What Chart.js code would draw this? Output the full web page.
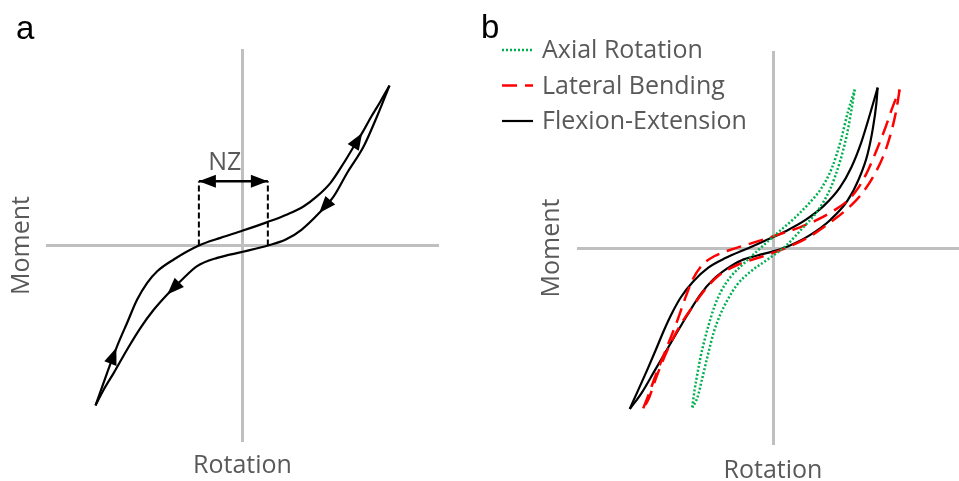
<!DOCTYPE html>
<html>
<head>
<meta charset="utf-8">
<script src="https://cdn.jsdelivr.net/npm/chart.js@4.4.0/dist/chart.umd.min.js"></script>
<style>
  html, body { margin: 0; padding: 0; background: #fff; overflow: hidden; width: 959px; height: 481px; }
  canvas { position: absolute; top: 0; }
  #panelA { left: 0; }
  #panelB { left: 480px; }
</style>
</head>
<body>
<canvas id="panelA" width="480" height="481"></canvas>
<canvas id="panelB" width="490" height="490"></canvas>
<script>
'use strict';

// ── Shared text ──────────────────────────────────────────────
const xTitle = 'Rotation';
const yTitle = 'Moment';
const panelTags = ['a', 'b'];

// ── Panel a: one load-unload loop, [rotation, moment] ───────
const loadingA = [
  [-7.48, -8.14], [-6.89, -6.48], [-6.38, -5.12], [-5.87, -3.93], [-5.36, -2.75],
  [-4.85, -1.9], [-4.34, -1.31], [-3.5, -0.71], [-2.22, 0], [-1.12, 0.39],
  [0.02, 0.76], [1.26, 1.19], [2.27, 1.58], [3.12, 2.0], [3.8, 2.51], [4.48, 3.19],
  [5.16, 4.21], [5.67, 5.05], [6.09, 5.73], [6.55, 6.55], [7.02, 7.33], [7.48, 8.14]
];
const unloadingA = [
  [7.48, 8.14], [6.85, 6.58], [6.17, 5.05], [5.33, 3.7], [4.65, 2.51], [3.9, 1.65],
  [3.0, 0.8], [2.2, 0.3], [1.3, 0], [0.02, -0.32], [-1.29, -0.63], [-2.31, -1.05],
  [-3.07, -1.73], [-3.83, -2.49], [-4.51, -3.26], [-5.19, -4.19], [-5.87, -5.29],
  [-6.55, -6.48], [-7.06, -7.33], [-7.48, -8.14]
];
// arrowheads along the loop: [fromX, fromY, tipX, tipY]
const loopArrows = [
  [-6.7, -5.95, -6.42, -5.2],
  [5.67, 5.05, 6.09, 5.73],
  [4.65, 2.51, 3.9, 1.65],
  [-3.07, -1.73, -3.83, -2.49]
];
// neutral zone
const nzEdges = [-2.22, 1.29];
const nzLevel = 3.27;
const nzText = 'NZ';
const nzTextAt = [-0.9, 3.83];

// ── Panel b: three loading modes ────────────────────────────
const seriesNames = ['Axial Rotation', 'Lateral Bending', 'Flexion-Extension'];
const axialLoad = [
  [-4.12, -8.09], [-4.0, -7.2], [-3.86, -6.4], [-3.7, -5.55], [-3.5, -4.7],
  [-3.28, -3.9], [-3.0, -3.0], [-2.65, -2.2], [-2.15, -1.45], [-1.45, -0.75],
  [-0.66, -0.02], [0.2, 0.74], [1.1, 1.52], [1.85, 2.28], [2.48, 3.05], [3.02, 4.1],
  [3.47, 5.5], [3.82, 6.9], [4.17, 8.04]
];
const axialUnload = [
  [4.17, 8.04], [4.0, 7.0], [3.76, 5.7], [3.42, 4.4], [2.92, 3.0], [2.25, 1.85],
  [1.5, 1.0], [0.7, 0.15], [-0.3, -0.6], [-1.15, -1.2], [-1.82, -1.85], [-2.3, -2.6],
  [-2.7, -3.4], [-3.03, -4.3], [-3.34, -5.5], [-3.63, -6.7], [-3.86, -7.6], [-4.11, -8.09]
];
const lateralLoad = [
  [-6.62, -8.14], [-6.33, -7.4], [-6.0, -6.5], [-5.62, -5.55], [-5.22, -4.55],
  [-4.85, -3.6], [-4.5, -2.6], [-4.1, -1.6], [-3.6, -0.85], [-3.0, -0.42],
  [-2.2, -0.1], [-1.0, 0.27], [0.2, 0.66], [1.37, 1.05], [2.3, 1.45], [3.1, 1.9],
  [3.8, 2.4], [4.35, 3.05], [4.85, 3.95], [5.3, 5.0], [5.75, 6.15], [6.1, 7.15],
  [6.46, 8.04]
];
const lateralUnload = [
  [6.46, 8.04], [6.3, 7.05], [5.98, 5.7], [5.6, 4.6], [5.1, 3.6], [4.45, 2.65],
  [3.75, 1.95], [2.9, 1.28], [1.9, 0.6], [0.85, 0.08], [-0.5, -0.42], [-1.8, -0.85],
  [-2.8, -1.42], [-3.5, -2.15], [-4.15, -3.05], [-4.75, -3.95], [-5.35, -5.1],
  [-5.95, -6.55], [-6.32, -7.6], [-6.61, -8.14]
];
const flexLoad = [
  [-7.31, -8.17], [-6.85, -7.15], [-6.4, -6.15], [-5.95, -5.1], [-5.55, -4.15],
  [-5.15, -3.3], [-4.7, -2.5], [-4.07, -1.7], [-3.3, -1.0], [-2.4, -0.5],
  [-1.3, -0.02], [-0.3, 0.42], [0.7, 0.88], [1.7, 1.45], [2.6, 2.15], [3.4, 3.05],
  [4.0, 4.1], [4.5, 5.35], [4.95, 6.8], [5.34, 8.14]
];
const flexUnload = [
  [5.34, 8.14], [5.27, 7.3], [5.1, 6.1], [4.82, 4.75], [4.4, 3.55], [3.8, 2.4],
  [2.95, 1.45], [1.8, 0.6], [0.75, 0.08], [0.01, -0.17], [-0.8, -0.38], [-1.6, -0.62],
  [-2.35, -1.05], [-3.05, -1.6], [-3.7, -2.35], [-4.4, -3.45], [-5.2, -4.8],
  [-6.05, -6.25], [-6.7, -7.35], [-7.3, -8.17]
];

// ── Helpers ─────────────────────────────────────────────────
Chart.defaults.font.family = '"Open Sans", sans-serif';
const GREY_TEXT = '#595959';
const GREY_AXIS = '#bfbfbf';

const pts = arr => arr.map(([x, y]) => ({ x, y }));

// smooth branch of a loop (x is monotone along each branch)
function curve(data, color, width, dash = [], label = '') {
  return {
    label,
    data: pts(data),
    showLine: true,
    borderColor: color,
    backgroundColor: color,
    borderWidth: width,
    borderDash: dash,
    pointRadius: 0,
    cubicInterpolationMode: 'monotone',
    fill: false,
    clip: false
  };
}

// straight guide line
function segment(data, width, dash = []) {
  return {
    data: pts(data),
    showLine: true,
    borderColor: '#000',
    borderWidth: width,
    borderDash: dash,
    pointRadius: 0,
    tension: 0,
    fill: false,
    clip: false
  };
}

function axes(xPad, yPad) {
  const grid = {
    drawTicks: false,
    lineWidth: 3,
    color: c => (c.tick && c.tick.value === 0 ? GREY_AXIS : 'rgba(0,0,0,0)')
  };
  const title = (text, padding) => ({
    display: true, text, color: GREY_TEXT, padding,
    font: { size: 25, family: '"Open Sans", sans-serif' }
  });
  return {
    x: { type: 'linear', min: -10, max: 10, ticks: { display: false, stepSize: 10 },
         border: { display: false }, grid, title: title(xTitle, xPad) },
    y: { type: 'linear', min: -10, max: 10, ticks: { display: false, stepSize: 10 },
         border: { display: false }, grid, title: title(yTitle, yPad) }
  };
}

function arrowHead(ctx, sx, sy, [x0, y0, x1, y1], len, half) {
  const px0 = sx.getPixelForValue(x0), py0 = sy.getPixelForValue(y0);
  const px1 = sx.getPixelForValue(x1), py1 = sy.getPixelForValue(y1);
  const a = Math.atan2(py1 - py0, px1 - px0);
  const bx = px1 - len * Math.cos(a), by = py1 - len * Math.sin(a);
  ctx.beginPath();
  ctx.moveTo(px1, py1);
  ctx.lineTo(bx + half * Math.sin(a), by - half * Math.cos(a));
  ctx.lineTo(bx - half * Math.sin(a), by + half * Math.cos(a));
  ctx.closePath();
  ctx.fillStyle = '#000';
  ctx.fill();
}

// draws panel letter, arrowheads, NZ text and the key
function overlay(cfg) {
  return {
    id: 'overlay',
    afterDatasetsDraw(chart) {
      const { ctx, scales: { x, y } } = chart;
      ctx.save();
      (cfg.arrows || []).forEach(a => arrowHead(ctx, x, y, a, cfg.headLen, cfg.headHalf));
      if (cfg.note) {
        ctx.font = '25px "Open Sans"';
        ctx.fillStyle = GREY_TEXT;
        ctx.textAlign = 'center';
        ctx.textBaseline = 'alphabetic';
        ctx.fillText(cfg.note.text, x.getPixelForValue(cfg.note.at[0]), y.getPixelForValue(cfg.note.at[1]));
      }
      ctx.restore();
    },
    afterDraw(chart) {
      const ctx = chart.ctx;
      ctx.save();
      ctx.font = '33px "Liberation Sans", Arial, sans-serif';
      ctx.fillStyle = '#000';
      ctx.textBaseline = 'alphabetic';
      ctx.textAlign = 'left';
      ctx.fillText(cfg.tag, cfg.tagAt[0], cfg.tagAt[1]);

      if (cfg.key) {
        const k = cfg.key;
        const seen = new Set();
        let row = 0;
        chart.data.datasets.forEach(ds => {
          if (!ds.label || seen.has(ds.label)) return;
          seen.add(ds.label);
          const yy = k.y + row * k.gap;
          ctx.beginPath();
          ctx.setLineDash(ds.borderDash || []);
          ctx.lineDashOffset = 0;
          ctx.strokeStyle = ds.borderColor;
          ctx.lineWidth = ds.borderWidth;
          ctx.moveTo(k.x, yy);
          ctx.lineTo(k.x + k.len, yy);
          ctx.stroke();
          ctx.setLineDash([]);
          ctx.font = '25px "Open Sans"';
          ctx.fillStyle = GREY_TEXT;
          ctx.textBaseline = 'middle';
          ctx.fillText(ds.label, k.textX, yy + 1);
          row++;
        });
      }
      ctx.restore();
    }
  };
}

const baseOptions = {
  responsive: false,
  animation: false,
  devicePixelRatio: 1,
  events: [],
  plugins: { legend: { display: false }, tooltip: { enabled: false } }
};

// ── Panel a ─────────────────────────────────────────────────
new Chart(document.getElementById('panelA'), {
  type: 'scatter',
  data: {
    datasets: [
      curve(loadingA, '#000', 2.2),
      curve(unloadingA, '#000', 2.2),
      segment([[nzEdges[0], 0], [nzEdges[0], nzLevel]], 2, [6, 3]),
      segment([[nzEdges[1], 0], [nzEdges[1], nzLevel]], 2, [6, 3]),
      segment([[nzEdges[0], nzLevel], [nzEdges[1], nzLevel]], 2.4)
    ]
  },
  options: {
    ...baseOptions,
    layout: { autoPadding: false, padding: { left: 0, top: 49, right: 41, bottom: 0 } },
    scales: axes({ top: 9, bottom: 0 }, { top: 7, bottom: 9 })
  },
  plugins: [overlay({
    tag: panelTags[0], tagAt: [16, 39],
    arrows: [
      ...loopArrows,
      [nzEdges[0] + 1, nzLevel, nzEdges[0], nzLevel],
      [nzEdges[1] - 1, nzLevel, nzEdges[1], nzLevel]
    ],
    headLen: 17, headHalf: 6.5,
    note: { text: nzText, at: nzTextAt }
  })]
});

// ── Panel b ─────────────────────────────────────────────────
const GREEN = '#00b050', RED = '#ff0000', BLACK = '#000';
new Chart(document.getElementById('panelB'), {
  type: 'scatter',
  data: {
    datasets: [
      curve(axialLoad, GREEN, 2.5, [2, 2], seriesNames[0]),
      curve(axialUnload, GREEN, 2.5, [2, 2], seriesNames[0]),
      curve(lateralLoad, RED, 2.5, [15, 8], seriesNames[1]),
      curve(lateralUnload, RED, 2.5, [15, 8], seriesNames[1]),
      curve(flexLoad, BLACK, 2.2, [], seriesNames[2]),
      curve(flexUnload, BLACK, 2.2, [], seriesNames[2])
    ]
  },
  options: {
    ...baseOptions,
    layout: { autoPadding: false, padding: { left: 50, top: 51, right: 1, bottom: 0 } },
    scales: axes({ top: 11, bottom: 4 }, { top: 7, bottom: 10 })
  },
  plugins: [overlay({
    tag: panelTags[1], tagAt: [1, 38],
    key: { x: 22, len: 31, textX: 62, y: 50, gap: 35.5 }
  })]
});
</script>
</body>
</html>
